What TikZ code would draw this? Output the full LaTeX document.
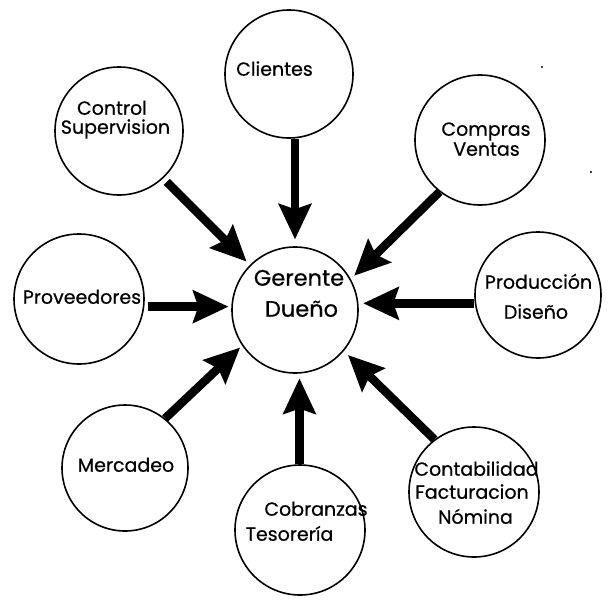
\documentclass[tikz,border=0pt]{standalone}
\usepackage{fontspec}
\setmainfont{Poppins}
\newfontfamily\labfont{Poppins}[FakeBold=0.6]
\usetikzlibrary{arrows.meta}
\begin{document}
\begin{tikzpicture}[x=1pt,y=-1pt,
  bubble/.style={circle,draw,line width=1.6pt,minimum size=#1,inner sep=0pt},
  bubble/.default=126pt,
  lbl/.style={font=\labfont\fontsize{19}{22}\selectfont,inner sep=0pt,anchor=mid},
  biglbl/.style={font=\labfont\fontsize{22.5}{26}\selectfont,inner sep=0pt,anchor=mid},
  feed/.style={line width=8.5pt,
    -{Stealth[length=36pt,width=34pt,inset=6pt,line width=0pt]},
    shorten >=5pt}
]
\useasboundingbox (0,0) rectangle (611,603);

% bubbles
\node[bubble] (ger) at (295,310) {};
\node[bubble=128pt] (cli) at (289,74) {};
\node[bubble=128pt] (ctl) at (119,131) {};
\node[bubble=130pt] (com) at (480,140) {};
\node[bubble=130pt] (pro) at (79,299) {};
\node[bubble] (prd) at (538,295) {};
\node[bubble] (mer) at (125,468) {};
\node[bubble=130pt] (cob) at (300,530) {};
\node[bubble=130pt] (cnt) at (474,492) {};

% labels
\node[biglbl] (t-ger1) at (299,283) {Gerente};
\node[biglbl] (t-ger2) at (301.5,314) {Dueño};
\node[lbl] (t-cli) at (274.5,73) {Clientes};
\node[lbl] (t-ctl1) at (112,112) {Control};
\node[lbl] (t-ctl2) at (115.5,131) {Supervision};
\node[lbl] (t-com1) at (486,133) {Compras};
\node[lbl] (t-com2) at (486.5,153) {Ventas};
\node[lbl] (t-pro) at (82,301) {Proveedores};
\node[lbl] (t-prd1) at (538.5,286) {Producción};
\node[lbl] (t-prd2) at (536,316) {Diseño};
\node[lbl] (t-mer) at (126,469) {Mercadeo};
\node[lbl] (t-cob1) at (316,513) {Cobranzas};
\node[lbl] (t-cob2) at (289.5,538) {Tesorería};
\node[lbl] (t-cnt1) at (476.5,473) {Contabilidad};
\node[lbl] (t-cnt2) at (472,496) {Facturacion};
\node[lbl] (t-cnt3) at (475.5,521) {Nómina};

% arrows into the centre
\draw[feed,shorten >=7pt] (ger.north |- cli.south) -- (ger.north);
\draw[feed,shorten <=5pt] (ctl.313) -- (ger.135);
\draw[feed] (com.232) -- (ger.29);
\draw[feed,shorten <=3pt,shorten >=3pt] (ger.177 -| pro.east) -- (ger.177);
\draw[feed] (ger.6 -| prd.west) -- (ger.6);
\draw[feed,shorten >=3pt] (mer.51) -- (ger.214);
\draw[feed] (ger.274 |- cob.north) -- (ger.274);
\draw[feed,shorten >=6pt] (cnt.127) -- (ger.320);

% specks
\fill (542,67) circle (1.2pt);
\fill (591,172) circle (1.2pt);
\end{tikzpicture}
\end{document}
